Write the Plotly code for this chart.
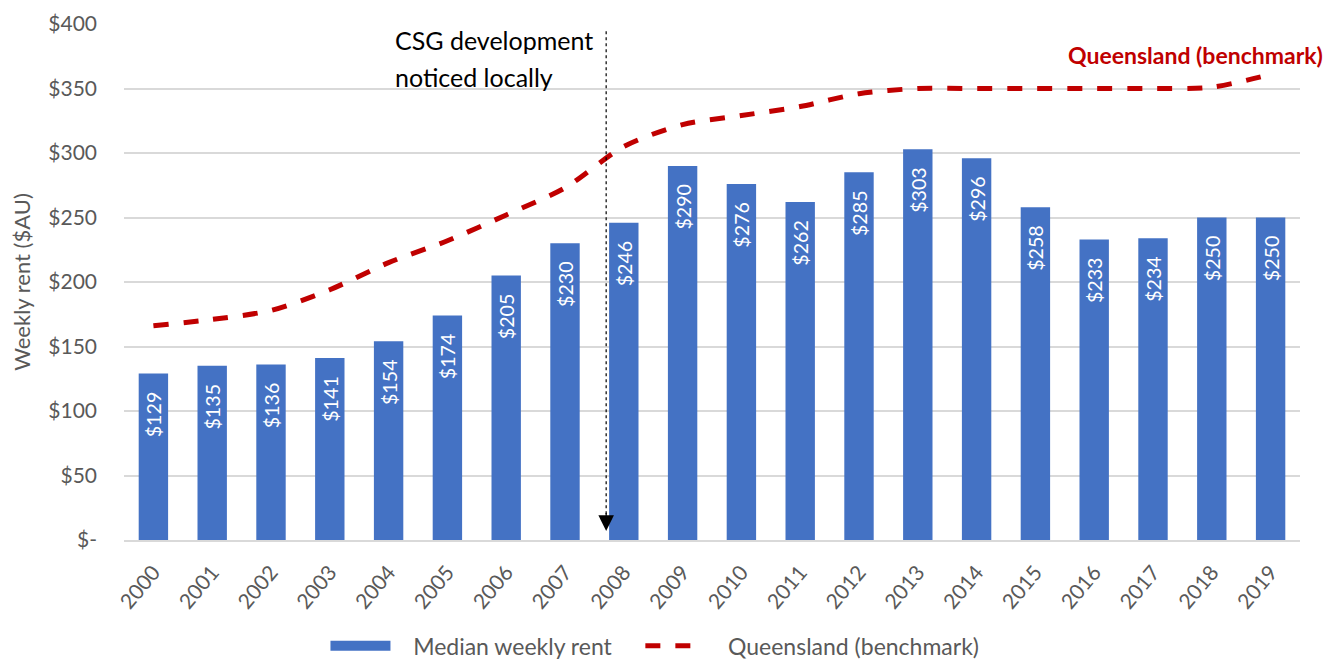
import plotly.graph_objects as go

years = [str(y) for y in range(2000, 2020)]
median_rent = [129, 135, 136, 141, 154, 174, 205, 230, 246, 290, 276, 262, 285, 303, 296, 258, 233, 234, 250, 250]
qld_benchmark = [166, 171, 178, 194, 215, 232, 252, 273, 305, 322, 329, 336, 346, 350, 350, 350, 350, 350, 351, 361]
y_ticks = [0, 50, 100, 150, 200, 250, 300, 350, 400]
y_tick_labels = ["$-", "$50", "$100", "$150", "$200", "$250", "$300", "$350", "$400"]

FONT = "Lato"
GREY = "#595959"
BLUE = "#4472C4"
RED = "#C00000"
PAD = "\u00a0" * 3
NB = "\u00a0"

ARROW_X = 7.7  # just left of the 2008 bar

fig = go.Figure()
fig.add_trace(go.Bar(
    x=years, y=median_rent, name="Median weekly rent", showlegend=False,
    marker=dict(color=BLUE, line=dict(width=0)),
    text=[f"${v}{PAD}" for v in median_rent], textposition="inside",
    textangle=-90, insidetextanchor="end",
    textfont=dict(color="white", size=21, family=FONT),
    width=0.5,
))
# legend entry styled like the wide bar swatch
fig.add_trace(go.Scatter(
    x=[None], y=[None], name=NB * 3 + "Median weekly rent" + NB * 4, mode="lines",
    line=dict(color=BLUE, width=15),
))
fig.add_trace(go.Scatter(
    x=years, y=qld_benchmark, name=NB * 3 + "Queensland (benchmark)", mode="lines",
    line=dict(color=RED, width=5, dash="dash", shape="spline", smoothing=0.8),
))

fig.add_shape(type="line", xref="x", yref="y", x0=ARROW_X, x1=ARROW_X, y0=20, y1=396,
              line=dict(color="black", width=1.2, dash="3px,3px"))
fig.add_annotation(x=ARROW_X, y=7, ax=ARROW_X, ay=22, xref="x", yref="y", axref="x", ayref="y",
                   text="", showarrow=True, arrowhead=2, arrowsize=2.6, arrowwidth=1.2,
                   arrowcolor="black")
# right chart border
fig.add_shape(type="line", xref="paper", yref="paper", x0=1.0255, x1=1.0255, y0=-0.3, y1=1.05,
              line=dict(color="#D9D9D9", width=2))
fig.add_annotation(x=(393 - 124) / 1176, y=(540 - 40) / 1.29, xref="paper", yref="y",
                   xanchor="left", yanchor="middle",
                   text="CSG development", showarrow=False, align="left",
                   font=dict(size=25, color="black", family=FONT))
fig.add_annotation(x=(393 - 124) / 1176, y=(540 - 77) / 1.29, xref="paper", yref="y",
                   xanchor="left", yanchor="middle",
                   text="noticed locally", showarrow=False, align="left",
                   font=dict(size=25, color="black", family=FONT))
fig.add_annotation(x=(1195 - 124) / 1176, y=(540 - 55) / 1.29, xref="paper", yref="y",
                   xanchor="center", yanchor="middle",
                   text="<b>Queensland (benchmark)</b>", showarrow=False,
                   font=dict(size=23, color=RED, family=FONT))

fig.update_layout(
    width=1329, height=654,
    margin=dict(l=116, r=37, t=16, b=122, autoexpand=False),
    plot_bgcolor="white", paper_bgcolor="white",
    font=dict(family=FONT, color=GREY),
    showlegend=True,
    legend=dict(orientation="h", x=0.4515, xanchor="center", y=-0.205, yanchor="middle",
                font=dict(size=23, color=GREY), itemwidth=60, tracegroupgap=0),
    yaxis=dict(range=[0, 400], tickvals=y_ticks, ticktext=y_tick_labels,
               gridcolor="#D9D9D9", gridwidth=1.5, zeroline=False, automargin=False,
               tickfont=dict(size=21, color=GREY), ticks="", ticklabelstandoff=26,
               title=dict(text="Weekly rent ($AU)", font=dict(size=22, color=GREY), standoff=22)),
    xaxis=dict(tickangle=-50, tickfont=dict(size=21, color=GREY), showline=True, automargin=False,
               linecolor="#D9D9D9", linewidth=1.5, ticks="", ticklabelstandoff=10),
)

fig.write_html("out.html")
